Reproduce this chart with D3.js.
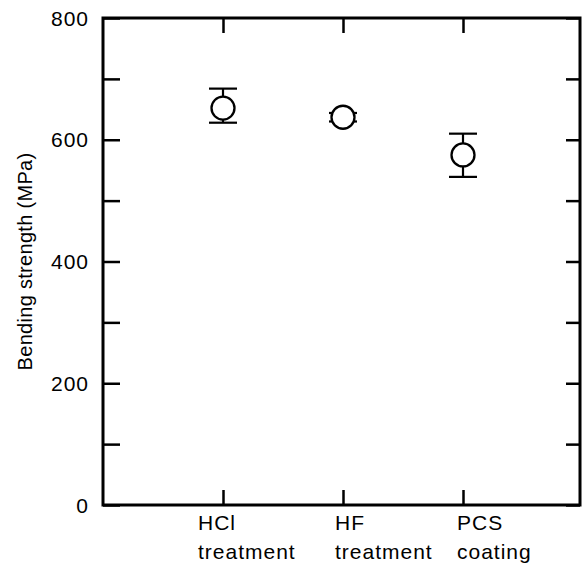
<!DOCTYPE html>
<html>
<head>
<meta charset="utf-8">
<script src="https://cdn.jsdelivr.net/npm/d3@7"></script>
<style>
html,body{margin:0;padding:0;background:#fff;}
svg{display:block;}
text{font-family:"Liberation Sans",Arial,Helvetica,sans-serif;fill:#000;}
</style>
</head>
<body>
<svg id="chart" width="583" height="563"></svg>
<script>
// ---- data ----
const categories = ["HCl treatment", "HF treatment", "PCS coating"];
const labelLine1 = ["HCl", "HF", "PCS"];
const labelLine2 = ["treatment", "treatment", "coating"];
const meanValues = [652, 637, 575];
const upperValues = [684, 644, 610];
const lowerValues = [628, 630, 539];
const yTickLabels = [0, 200, 400, 600, 800];
const yMinorTicks = [0, 100, 200, 300, 400, 500, 600, 700, 800];

// ---- layout ----
const svg = d3.select("#chart");
const pLeft = 103, pRight = 580, pTop = 18, pBottom = 505;
const x = d3.scaleLinear().domain([0, 3.975]).range([pLeft, pRight]);
const y = d3.scaleLinear().domain([0, 800]).range([pBottom, pTop]);
const catX = i => x(i + 1);
const labelDx = [-25, -8, -6];

// frame
svg.append("rect")
  .attr("x", pLeft).attr("y", pTop)
  .attr("width", pRight - pLeft).attr("height", pBottom - pTop)
  .attr("fill", "none").attr("stroke", "#000").attr("stroke-width", 3);

// y axes (inward ticks)
const yLeft = d3.axisRight(y).tickValues(yMinorTicks).tickSize(17).tickFormat("");
const gL = svg.append("g").attr("transform", `translate(${pLeft},0)`).call(yLeft);
const yRight = d3.axisLeft(y).tickValues(yMinorTicks).tickSize(14).tickFormat("");
const gR = svg.append("g").attr("transform", `translate(${pRight},0)`).call(yRight);
// x axes ticks (inward)
const xBottom = d3.axisTop(x).tickValues([1, 2, 3]).tickSize(15).tickFormat("");
const gB = svg.append("g").attr("transform", `translate(0,${pBottom})`).call(xBottom);
const xTop = d3.axisBottom(x).tickValues([1, 2, 3]).tickSize(15).tickFormat("");
const gT = svg.append("g").attr("transform", `translate(0,${pTop})`).call(xTop);
[gL, gR, gB, gT].forEach(g => {
  g.select(".domain").remove();
  g.selectAll(".tick line").attr("stroke", "#000").attr("stroke-width", 2.5);
});

// y tick labels
svg.append("g").selectAll("text").data(yTickLabels).join("text")
  .attr("x", 89).attr("y", d => y(d)).attr("dy", "0.36em")
  .attr("text-anchor", "end").style("font-size", "21px").style("letter-spacing", "1px")
  .text(d => d);

// y axis title
svg.append("text")
  .attr("transform", `translate(32,${(pTop + pBottom) / 2}) rotate(-90)`)
  .attr("text-anchor", "middle").style("font-size", "20px").style("letter-spacing", "0.3px")
  .text("Bending strength (MPa)");

// category labels
const cl = svg.append("g").style("font-size", "21px").style("letter-spacing", "1px");
cl.selectAll("text.l1").data(labelLine1).join("text").attr("class", "l1")
  .attr("x", (d, i) => catX(i) + labelDx[i]).attr("y", 530)
  .text(d => d);
cl.selectAll("text.l2").data(labelLine2).join("text").attr("class", "l2")
  .attr("x", (d, i) => catX(i) + labelDx[i]).attr("y", 559)
  .text(d => d);

// error bars
const cap = 14;
const eb = svg.append("g").attr("stroke", "#000").attr("stroke-width", 2.2);
meanValues.forEach((m, i) => {
  const cx = catX(i);
  eb.append("line").attr("x1", cx).attr("x2", cx).attr("y1", y(upperValues[i])).attr("y2", y(lowerValues[i]));
  eb.append("line").attr("x1", cx - cap).attr("x2", cx + cap).attr("y1", y(upperValues[i])).attr("y2", y(upperValues[i]));
  eb.append("line").attr("x1", cx - cap).attr("x2", cx + cap).attr("y1", y(lowerValues[i])).attr("y2", y(lowerValues[i]));
});

// points
svg.append("g").selectAll("circle").data(meanValues).join("circle")
  .attr("cx", (d, i) => catX(i)).attr("cy", d => y(d)).attr("r", 11.5)
  .attr("fill", "#fff").attr("stroke", "#000").attr("stroke-width", 2.3);
</script>
</body>
</html>
